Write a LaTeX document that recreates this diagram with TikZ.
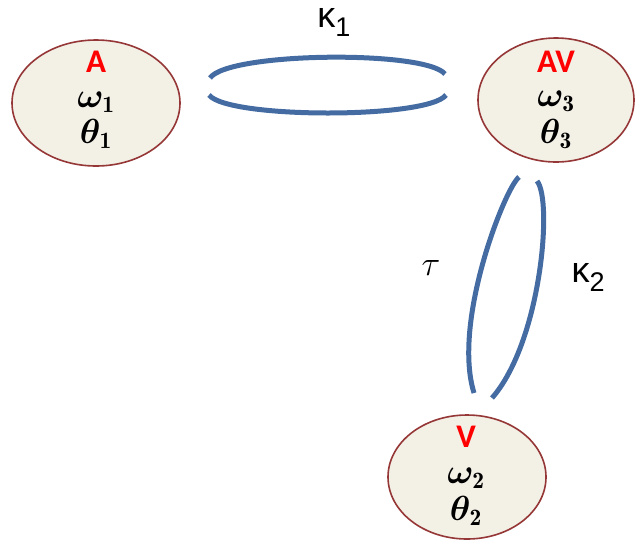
\documentclass[tikz,border=0pt]{standalone}
\usepackage{fontspec}
\usepackage{graphicx}
\usepackage{amsmath,bm}
\newfontfamily\calib{Carlito}
\newfontfamily\greekfont{Liberation Sans}
\usetikzlibrary{shapes.geometric,arrows.meta}
\definecolor{ellfill}{RGB}{243,240,230}
\definecolor{elldraw}{RGB}{150,55,55}
\definecolor{arcblue}{RGB}{68,108,162}
\definecolor{lblred}{RGB}{255,0,0}
\newcommand{\myBigMath}[1]{\scalebox{1.4}{\fontsize{24}{28}\selectfont$#1$}}
\tikzset{
  state/.style={ellipse,draw=elldraw,fill=ellfill,line width=1.6pt,inner sep=0pt},
  title/.style={font=\calib\bfseries\fontsize{33}{36}\selectfont,text=lblred},
  mathlbl/.style={inner sep=0pt},
  arc/.style={draw=arcblue,line width=5pt,line cap=butt},
  glbl/.style={font=\greekfont\fontsize{36}{40}\selectfont}
}
\begin{document}
\begin{tikzpicture}[x=1pt,y=-1pt]
\useasboundingbox (0,0) rectangle (639,539);
% ellipses
\node[state,minimum width=168pt,minimum height=126pt] (A) at (96,103) {};
\node[state,minimum width=156pt,minimum height=124pt] (AV) at (556,100) {};
\node[state,minimum width=158pt,minimum height=124pt] (V) at (467,477) {};
% texts
\node[title] (At) at (96,62) {A};
\node[mathlbl] (Aw) at (96,102) {\myBigMath{\bm{\omega}_{\mathbf{1}}}};
\node[mathlbl] (Ath) at (96,134) {\myBigMath{\bm{\theta}_{\mathbf{1}}}};
\node[title] (AVt) at (556,62) {AV};
\node[mathlbl] (AVw) at (556,101) {\myBigMath{\bm{\omega}_{\mathbf{3}}}};
\node[mathlbl] (AVth) at (556,134) {\myBigMath{\bm{\theta}_{\mathbf{3}}}};
\node[title] (Vt) at (466,437) {V};
\node[mathlbl] (Vw) at (466,478) {\myBigMath{\bm{\omega}_{\mathbf{2}}}};
\node[mathlbl] (Vth) at (466,511) {\myBigMath{\bm{\theta}_{\mathbf{2}}}};
% edge labels
\node[glbl] (k1) at (334,22) {κ\raisebox{-0.25em}{\fontsize{27}{30}\selectfont 1}};
\node[inner sep=0pt] (tau) at (431,268) {\myBigMath{\tau}};
\node[glbl] (k2) at (588,277) {κ\raisebox{-0.25em}{\fontsize{27}{30}\selectfont 2}};
% arc end coordinates
\coordinate (h1s) at (210,78);
\coordinate (h1e) at (445,74);
\coordinate (h2s) at (209,95);
\coordinate (h2e) at (446,95);
\coordinate (v1s) at (519,177);
\coordinate (v1e) at (474,393);
\coordinate (v2s) at (537,181);
\coordinate (v2e) at (492,398);
% arcs
\draw[arc] (h1s) .. controls (228,52) and (425,50) .. (h1e);
\draw[arc] (h2s) .. controls (228,119) and (428,119) .. (h2e);
\draw[arc] (v1s) .. controls (505,188) and (452,322) .. (v1e);
\draw[arc] (v2s) .. controls (553,200) and (541,342) .. (v2e);
\end{tikzpicture}
\end{document}
